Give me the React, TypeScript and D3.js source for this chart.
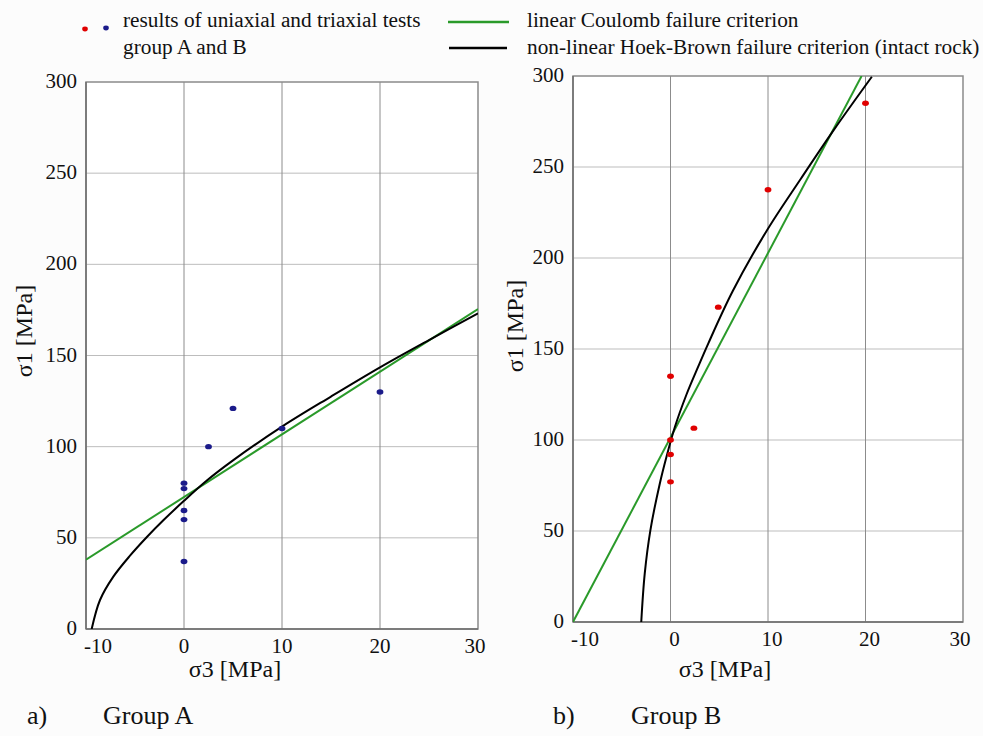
import React from "react";
import * as d3 from "d3";

// ---------- data ----------
const xTicks = [-10, 0, 10, 20, 30];
const yTicks = [0, 50, 100, 150, 200, 250, 300];

// Group A test results (σ3, σ1) [MPa]
const groupASigma3 = [0, 0, 0, 0, 0, 2.5, 5, 10, 20];
const groupASigma1 = [80, 77, 65, 60, 37, 100, 121, 110, 130];

// Group B test results
const groupBSigma3 = [0, 0, 0, 0, 2.4, 4.9, 10, 20];
const groupBSigma1 = [135, 100, 92, 77, 106.5, 173, 237.5, 285];

// linear Coulomb criterion
const coulombASigma3 = [-10, 30];
const coulombASigma1 = [38, 175.5];
const coulombBSigma3 = [-10, 19.6];
const coulombBSigma1 = [0, 300];

// non-linear Hoek-Brown criterion (intact rock)
const hoekASigma3 = [-9.42, -8.57, -7.21, -5.51, -3.81, -2.11, 0, 2.39, 5, 10, 15, 20, 25, 30];
const hoekASigma1 = [0, 15.9, 28.7, 40.2, 50.3, 59.6, 70.3, 81.7, 92.5, 111, 127.5, 143.5, 158.5, 173.1];
const hoekBSigma3 = [-3.0, -2.64, -2.06, -1.1, -0.41, 0.44, 1.64, 2.84, 3.87, 6.4, 9.87, 13.3, 16.7, 20.65];
const hoekBSigma1 = [0, 26.7, 50.5, 76, 90.8, 107, 125, 140.3, 153, 182, 215, 243, 270, 299.6];

const legendLabels = [
  "results of uniaxial and triaxial tests",
  "group A and B",
  "linear Coulomb failure criterion",
  "non-linear Hoek-Brown failure criterion (intact rock)",
];

const FONT = "'Liberation Serif', 'Times New Roman', Times, serif";
const GREEN = "#2a9a2a";
const RED = "#e00000";
const BLUE = "#1b1b8a";

type PanelProps = {
  id: string;
  x0: number;
  x1: number;
  y0: number;
  y1: number;
  ptsX: number[];
  ptsY: number[];
  dotColor: string;
  linX: number[];
  linY: number[];
  hbX: number[];
  hbY: number[];
  tickDx: number;
  yLabelX: number;
  yLabelY: number;
  xLabelX: number;
  caption: string;
  captionLetter: string;
  captionX: number;
  letterX: number;
};

function Panel(p: PanelProps) {
  const x = d3.scaleLinear().domain([-10, 30]).range([p.x0, p.x1]);
  const y = d3.scaleLinear().domain([0, 300]).range([p.y0, p.y1]);
  const line = d3
    .line<[number, number]>()
    .x((d) => x(d[0]))
    .y((d) => y(d[1]));
  const smooth = d3
    .line<[number, number]>()
    .x((d) => x(d[0]))
    .y((d) => y(d[1]))
    .curve(d3.curveCatmullRom.alpha(0.5));
  const lin = p.linX.map((v, i) => [v, p.linY[i]] as [number, number]);
  const hb = p.hbX.map((v, i) => [v, p.hbY[i]] as [number, number]);
  const clipId = "clip-" + p.id;

  return (
    <g>
      <defs>
        <clipPath id={clipId}>
          <rect x={p.x0} y={p.y1} width={p.x1 - p.x0} height={p.y0 - p.y1} />
        </clipPath>
      </defs>
      <rect x={p.x0} y={p.y1} width={p.x1 - p.x0} height={p.y0 - p.y1} fill="#ffffff" />
      {yTicks.slice(1, -1).map((t) => (
        <line key={"h" + t} x1={p.x0} x2={p.x1} y1={y(t)} y2={y(t)} stroke="#bdbdbd" strokeWidth={1} />
      ))}
      {xTicks.slice(1, -1).map((t) => (
        <line key={"v" + t} x1={x(t)} x2={x(t)} y1={p.y0} y2={p.y1} stroke="#8c8c8c" strokeWidth={1} />
      ))}
      <rect
        x={p.x0}
        y={p.y1}
        width={p.x1 - p.x0}
        height={p.y0 - p.y1}
        fill="none"
        stroke="#8a8a8a"
        strokeWidth={1.5}
      />
      <line x1={p.x0} x2={p.x0} y1={p.y0} y2={p.y1} stroke="#6e6e6e" strokeWidth={1.5} />
      <line x1={p.x0} x2={p.x1} y1={p.y0} y2={p.y0} stroke="#6e6e6e" strokeWidth={1.5} />

      <g clipPath={`url(#${clipId})`}>
        <path d={line(lin) || ""} fill="none" stroke={GREEN} strokeWidth={2} />
        <path d={smooth(hb) || ""} fill="none" stroke="#000" strokeWidth={2} />
      </g>

      {p.ptsX.map((v, i) => (
        <ellipse key={"p" + i} cx={x(v)} cy={y(p.ptsY[i])} rx={3.4} ry={2.7} fill={p.dotColor} />
      ))}

      {yTicks.map((t) => (
        <text
          key={"yt" + t}
          x={p.x0 - 9}
          y={y(t) + 6}
          textAnchor="end"
          fontSize={21}
          fontFamily={FONT}
          fill="#111"
        >
          {t}
        </text>
      ))}
      {xTicks.map((t, i) => {
        const first = i === 0;
        const last = i === xTicks.length - 1;
        const xx = first ? x(t) - 2 : last ? x(t) - 3 : x(t) + p.tickDx;
        return (
          <text
            key={"xt" + t}
            x={xx}
            y={p.y0 + 24}
            textAnchor={first ? "start" : "middle"}
            fontSize={21}
            fontFamily={FONT}
            fill="#111"
          >
            {t}
          </text>
        );
      })}

      <text x={p.xLabelX} y={677} textAnchor="middle" fontSize={24} fontFamily={FONT} fill="#111">
        σ3 [MPa]
      </text>
      <text
        transform={`translate(${p.yLabelX},${p.yLabelY}) rotate(-90)`}
        textAnchor="middle"
        dy="0.35em"
        fontSize={24}
        fontFamily={FONT}
        fill="#111"
      >
        σ1 [MPa]
      </text>

      <text x={p.letterX} y={724} fontSize={26} fontFamily={FONT} fill="#111">
        {p.captionLetter}
      </text>
      <text x={p.captionX} y={724} fontSize={26} fontFamily={FONT} fill="#111">
        {p.caption}
      </text>
    </g>
  );
}

export default function App() {
  return (
    <svg
      width={983}
      height={736}
      style={{ position: "absolute", left: 0, top: 0, background: "#fcfcfc" }}
    >
      <rect x={0} y={0} width={983} height={736} fill="#fcfcfc" />
      <ellipse cx={85} cy={29} rx={2.8} ry={2.4} fill={RED} />
      <ellipse cx={106} cy={28} rx={2.8} ry={2.4} fill={BLUE} />
      <text x={123} y={27} fontSize={21.3} fontFamily={FONT} fill="#111">
        {legendLabels[0]}
      </text>
      <text x={123} y={54} fontSize={21.3} fontFamily={FONT} fill="#111">
        {legendLabels[1]}
      </text>
      <line x1={448} x2={509} y1={22} y2={22} stroke={GREEN} strokeWidth={2.5} />
      <line x1={449} x2={507} y1={48} y2={48} stroke="#000" strokeWidth={2.5} />
      <text x={527} y={27} fontSize={21.3} fontFamily={FONT} fill="#111">
        {legendLabels[2]}
      </text>
      <text x={527} y={54} fontSize={21.3} fontFamily={FONT} fill="#111">
        {legendLabels[3]}
      </text>

      <Panel
        id="a"
        x0={86}
        x1={478}
        y0={629}
        y1={82}
        ptsX={groupASigma3}
        ptsY={groupASigma1}
        dotColor={BLUE}
        linX={coulombASigma3}
        linY={coulombASigma1}
        hbX={hoekASigma3}
        hbY={hoekASigma1}
        tickDx={0}
        yLabelX={24}
        yLabelY={331}
        xLabelX={235}
        caption="Group A"
        captionLetter="a)"
        captionX={103}
        letterX={27}
      />
      <Panel
        id="b"
        x0={573}
        x1={963}
        y0={622}
        y1={76}
        ptsX={groupBSigma3}
        ptsY={groupBSigma1}
        dotColor={RED}
        linX={coulombBSigma3}
        linY={coulombBSigma1}
        hbX={hoekBSigma3}
        hbY={hoekBSigma1}
        tickDx={4}
        yLabelX={515}
        yLabelY={326}
        xLabelX={725}
        caption="Group B"
        captionLetter="b)"
        captionX={631}
        letterX={553}
      />
    </svg>
  );
}
